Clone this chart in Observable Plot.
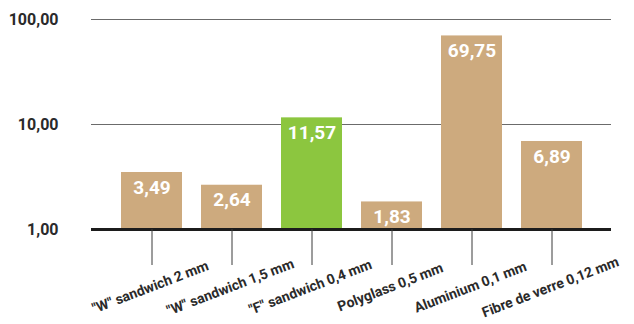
<!DOCTYPE html>
<html>
<head>
<meta charset="utf-8">
<script src="https://cdn.jsdelivr.net/npm/d3@7"></script>
<script src="https://cdn.jsdelivr.net/npm/@observablehq/plot@0.6"></script>
<style>
  html, body { margin: 0; padding: 0; background: #fff; }
</style>
</head>
<body>
<div id="chart"></div>
<script>
// Materials and their measured values (log scale)
const materials = [
  "\"W\" sandwich 2 mm",
  "\"W\" sandwich 1,5 mm",
  "\"F\" sandwich 0,4 mm",
  "Polyglass 0,5 mm",
  "Aluminium 0,1 mm",
  "Fibre de verre 0,12 mm"
];
const values = [3.49, 2.64, 11.57, 1.83, 69.75, 6.89];
const highlighted = ["\"F\" sandwich 0,4 mm"];
const yTicks = [1, 10, 100];

const tan = "#cdaa7e";
const green = "#8cc63f";

const data = materials.map((name, i) => ({name, value: values[i]}));
const fmt = v => v.toFixed(2).replace(".", ",");

const chart = Plot.plot({
  width: 634,
  height: 324,
  marginLeft: 91,
  marginRight: 23,
  marginTop: 19,
  marginBottom: 95,
  style: {fontFamily: "Roboto, sans-serif", overflow: "visible", background: "#fff"},
  x: {domain: materials, paddingInner: 0.24, paddingOuter: 0.34, label: null},
  y: {type: "log", domain: [1, 100], label: null},
  marks: [
    Plot.ruleY([10, 100], {stroke: "#6b6b6b", strokeWidth: 1}),
    Plot.barY(data, {
      x: "name",
      y1: 1,
      y2: "value",
      fill: d => highlighted.includes(d.name) ? green : tan
    }),
    Plot.ruleY([1], {stroke: "#1c1c1c", strokeWidth: 3}),
    Plot.text(data, {
      x: "name",
      y: "value",
      text: d => fmt(d.value),
      fill: "#fff",
      fontSize: 19,
      fontWeight: "bold",
      dy: 15
    }),
    Plot.axisX({
      tickSize: 36,
      tickFormat: () => "",
      stroke: "#3a3a3a",
      label: null
    }),
    Plot.text(materials, {
      x: d => d,
      text: d => d,
      frameAnchor: "bottom",
      dy: 62,
      rotate: -21,
      textAnchor: "middle",
      fontSize: 14,
      fontWeight: "bold",
      fill: "#2a2a2a"
    }),
    Plot.axisY({
      ticks: yTicks,
      tickSize: 0,
      tickPadding: 33,
      tickFormat: fmt,
      fontSize: 16,
      fontWeight: "bold",
      fill: "#2a2a2a",
      label: null
    })
  ]
});

document.getElementById("chart").append(chart);
</script>
</body>
</html>
